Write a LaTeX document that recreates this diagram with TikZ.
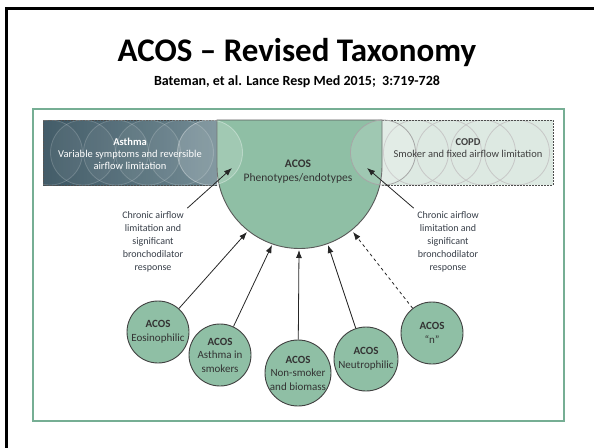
\documentclass[tikz,border=0pt]{standalone}
\usepackage{fontspec}
\setmainfont{Carlito}
\usetikzlibrary{arrows.meta,positioning}
\definecolor{acosgreen}{RGB}{143,191,165}
\definecolor{asthmadark}{RGB}{58,84,97}
\definecolor{asthmalight}{RGB}{108,134,143}
\definecolor{copdlight}{RGB}{221,233,226}
\definecolor{framegreen}{RGB}{118,174,148}
\definecolor{labelgray}{RGB}{55,62,72}
\tikzset{
    phenocircle/.style={circle, draw=black!75, line width=0.9pt, fill=acosgreen, minimum size=62pt, inner sep=0pt, align=center, font=\fontsize{11}{13.5}\selectfont, text=black!80},
    overlapring/.style={draw=white, draw opacity=0.18, fill=white, fill opacity=0.05, line width=0.8pt},
    greyring/.style={draw=black!22, line width=0.8pt},
    boxedge/.style={draw=black!70, line width=0.8pt, dash pattern=on 2pt off 1pt},
    linkarrow/.style={-{Latex[length=8pt,width=6pt]}, line width=0.8pt, draw=black!85},
    sidelabel/.style={align=center, font=\fontsize{10}{13}\selectfont, text=labelgray}
}

\begin{document}
\begin{tikzpicture}[x=1pt,y=-1pt]
    \useasboundingbox (0,0) rectangle (594,447);
    \draw[line width=3pt] (6.5,470) |- (620,8);
    \node[font=\fontsize{33}{36}\selectfont\bfseries, anchor=base] (title) at (297,61) {ACOS – Revised Taxonomy};
    \node[font=\fontsize{14}{16}\selectfont\bfseries, anchor=base] (cite) at (297,85) {Bateman, et al. Lance Resp Med 2015;\ \ 3:719-728};
    \draw[framegreen, line width=1.2pt] (33,109) rectangle (564,421);
    % asthma and copd bands
    \shade[left color=asthmadark, right color=asthmalight] (43,120) rectangle (217,185);
    \draw[boxedge] (217,120) -- (43,120) -- (43,185) -- (217,185);
    \begin{scope}
        \clip (43,120) rectangle (217,185);
        \foreach \cx in {50,83,116,148,181}
            \draw[overlapring] (\cx,152.5) circle[radius=32.5pt];
    \end{scope}
    \fill[copdlight] (382,120) rectangle (553,185);
    \begin{scope}
        \clip (382,120) rectangle (553,185);
        \foreach \cx in {416,449,483,517}
            \draw[greyring] (\cx,152.5) circle[radius=32.5pt];
    \end{scope}
    \draw[boxedge] (382,120) -- (553,120) -- (553,185) -- (382,185);
    % acos half disc
    \filldraw[fill=acosgreen, draw=black!65, line width=0.9pt] (217,120) -- (382,120) -- (382,166) arc[start angle=0, end angle=-180, radius=82.5pt] -- cycle;
    \draw[overlapring, draw opacity=0.35, fill opacity=0.16] (210,152.5) circle[radius=32.5pt];
    \draw[greyring, draw=black!35, fill=white, fill opacity=0.15] (383,152.5) circle[radius=32.5pt];
    \node[text=white, align=center, font=\fontsize{10.5}{12}\selectfont] (asthma) at (130,154) {\textbf{Asthma}\\Variable symptoms and reversible\\airflow limitation};
    \node[text=black!75, align=center, font=\fontsize{10.5}{12}\selectfont] (copd) at (468,148) {\textbf{COPD}\\Smoker and fixed airflow limitation};
    \node[text=black!80, align=center, font=\fontsize{11.5}{14}\selectfont] (acos) at (298,172) {\textbf{ACOS}\\Phenotypes/endotypes};
    \coordinate (asthmatip) at (232,168);
    \coordinate (copdtip) at (367,168);
    \coordinate (eostip) at (247,232);
    \coordinate (smoketip) at (272,245);
    \coordinate (biotip) at (299,250);
    \coordinate (neutip) at (328,245);
    \coordinate (ntip) at (353,232);
    \node[sidelabel] (leftlab) at (153,242) {Chronic airflow\\limitation and\\significant\\bronchodilator\\response};
    \node[sidelabel] (rightlab) at (448,242) {Chronic airflow\\limitation and\\significant\\bronchodilator\\response};
    \draw[linkarrow] (leftlab.north east) -- (asthmatip);
    \draw[linkarrow] (rightlab.north west) -- (copdtip);
    % phenotype circles
    \node[phenocircle] (eos) at (158,332) {\textbf{ACOS}\\Eosinophilic};
    \node[phenocircle] (smoke) at (220,355) {\textbf{ACOS}\\Asthma in\\smokers};
    \node[phenocircle, minimum size=66pt] (bio) at (298,373) {\textbf{ACOS}\\Non-smoker\\and biomass};
    \node[phenocircle, minimum size=64pt] (neu) at (366,359) {\textbf{ACOS}\\Neutrophilic};
    \node[phenocircle] (nn) at (432,333) {\textbf{ACOS}\\“n”};
    \draw[linkarrow] (eos) -- (eostip);
    \draw[linkarrow] (smoke) -- (smoketip);
    \draw[linkarrow] (bio) -- (biotip);
    \draw[linkarrow] (neu) -- (neutip);
    \draw[linkarrow, dashed] (nn) -- (ntip);
\end{tikzpicture}
\end{document}
